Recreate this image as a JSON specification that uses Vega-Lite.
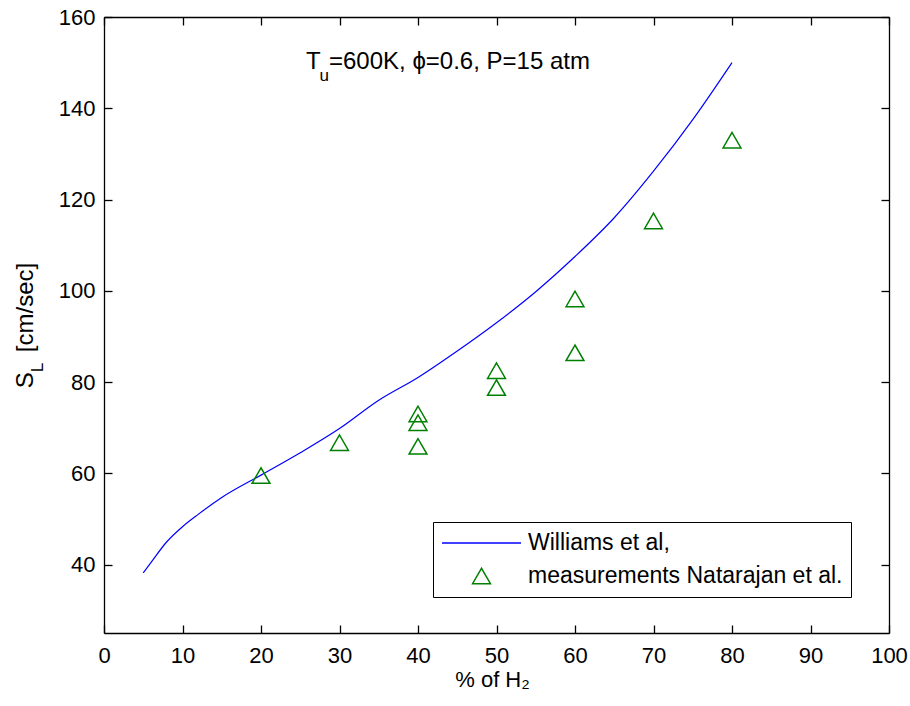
{
  "$schema": "https://vega.github.io/schema/vega-lite/v6.json",
  "width": 785,
  "height": 616,
  "autosize": {"type": "none"},
  "padding": {"left": 104, "top": 17, "right": 21, "bottom": 73},
  "background": "white",
  "config": {
    "font": "Liberation Sans",
    "view": {"stroke": null},
    "axis": {
      "grid": false,
      "domainColor": "black",
      "domainWidth": 1.3,
      "tickColor": "black",
      "tickWidth": 1.3,
      "tickSize": -8,
      "labelColor": "black",
      "labelFont": "Liberation Sans",
      "labelFontSize": 22,
      "labelFlush": false,
      "labelOverlap": false,
      "titleColor": "black",
      "titleFont": "Liberation Sans",
      "titleFontSize": 22,
      "titleFontWeight": "normal"
    },
    "legend": {
      "labelFont": "Liberation Sans",
      "labelFontSize": 23,
      "labelColor": "black",
      "labelLimit": 600
    }
  },
  "datasets": {
    "williams": [
      {"h2": 5, "sl": 38.2},
      {"h2": 6, "sl": 40.5},
      {"h2": 8, "sl": 45.0},
      {"h2": 10, "sl": 48.3},
      {"h2": 12, "sl": 51.0},
      {"h2": 15, "sl": 54.7},
      {"h2": 20, "sl": 59.6},
      {"h2": 25, "sl": 64.5},
      {"h2": 30, "sl": 69.8},
      {"h2": 35, "sl": 76.0},
      {"h2": 40, "sl": 81.0},
      {"h2": 45, "sl": 86.8},
      {"h2": 50, "sl": 93.0},
      {"h2": 55, "sl": 99.8},
      {"h2": 60, "sl": 107.5},
      {"h2": 65, "sl": 116.0},
      {"h2": 70, "sl": 126.2},
      {"h2": 75, "sl": 137.5},
      {"h2": 80, "sl": 150.0}
    ],
    "natarajan": [
      {"h2": 20, "sl": 59.5, "series": "measurements Natarajan et al."},
      {"h2": 30, "sl": 66.7, "series": "measurements Natarajan et al."},
      {"h2": 40, "sl": 73.0, "series": "measurements Natarajan et al."},
      {"h2": 40, "sl": 71.1, "series": "measurements Natarajan et al."},
      {"h2": 40, "sl": 65.9, "series": "measurements Natarajan et al."},
      {"h2": 50, "sl": 82.5, "series": "measurements Natarajan et al."},
      {"h2": 50, "sl": 78.8, "series": "measurements Natarajan et al."},
      {"h2": 60, "sl": 98.2, "series": "measurements Natarajan et al."},
      {"h2": 60, "sl": 86.4, "series": "measurements Natarajan et al."},
      {"h2": 70, "sl": 115.3, "series": "measurements Natarajan et al."},
      {"h2": 80, "sl": 133.0, "series": "measurements Natarajan et al."}
    ]
  },
  "resolve": {"axis": {"x": "independent", "y": "independent"}},
  "layer": [
    {
      "data": {"name": "williams"},
      "mark": {"type": "line", "color": "#0000ff", "strokeWidth": 1.2, "interpolate": "monotone"},
      "encoding": {
        "x": {
          "field": "h2", "type": "quantitative",
          "scale": {"domain": [0, 100], "nice": false, "zero": false},
          "axis": {"orient": "bottom", "values": [0, 10, 20, 30, 40, 50, 60, 70, 80, 90, 100], "labelPadding": 20, "title": "% of H₂", "titleBaseline": "alphabetic", "titleY": 53, "titleX": 388}
        },
        "y": {
          "field": "sl", "type": "quantitative",
          "scale": {"domain": [25, 160], "nice": false, "zero": false},
          "axis": {"orient": "left", "values": [40, 60, 80, 100, 120, 140, 160], "labelPadding": 17, "title": "S\u00a0\u00a0\u00a0[cm/sec]", "titleFontSize": 24, "titleAngle": 270, "titleBaseline": "alphabetic", "titleAlign": "center", "titleX": -72, "titleY": 308}
        }
      }
    },
    {
      "data": {"name": "natarajan"},
      "mark": {"type": "point", "filled": false, "strokeWidth": 1.5, "opacity": 1},
      "encoding": {
        "x": {
          "field": "h2", "type": "quantitative",
          "scale": {"domain": [0, 100], "nice": false, "zero": false},
          "axis": {"orient": "top", "values": [0, 10, 20, 30, 40, 50, 60, 70, 80, 90, 100], "labels": false, "title": null}
        },
        "y": {
          "field": "sl", "type": "quantitative",
          "scale": {"domain": [25, 160], "nice": false, "zero": false},
          "axis": {"orient": "right", "values": [40, 60, 80, 100, 120, 140, 160], "labels": false, "title": null}
        },
        "color": {
          "field": "series", "type": "nominal",
          "scale": {"domain": ["Williams et al,", "measurements Natarajan et al."], "range": ["#0000ff", "#008000"]},
          "legend": {
            "title": null,
            "orient": "none",
            "legendX": 329,
            "legendY": 505,
            "padding": 8,
            "clipHeight": 26,
            "strokeColor": "black",
            "fillColor": "white",
            "labelOffset": 6,
            "rowPadding": 7,
            "symbolStrokeWidth": 1.5
          }
        },
        "shape": {
          "field": "series", "type": "nominal",
          "scale": {"domain": ["Williams et al,", "measurements Natarajan et al."], "range": ["M-1,0H1", "triangle-up"]}
        },
        "size": {
          "field": "series", "type": "nominal",
          "scale": {"domain": ["Williams et al,", "measurements Natarajan et al."], "range": [6241, 320]}
        }
      }
    },
    {
      "data": {"values": [{}]},
      "mark": {"type": "text", "text": "T", "align": "left", "baseline": "alphabetic", "fontSize": 24, "font": "Liberation Sans", "color": "black"},
      "encoding": {
        "x": {"datum": 25.73, "type": "quantitative", "axis": null},
        "y": {"datum": 148.6, "type": "quantitative", "axis": null}
      }
    },
    {
      "data": {"values": [{}]},
      "mark": {"type": "text", "text": "u", "align": "left", "baseline": "alphabetic", "fontSize": 17, "font": "Liberation Sans", "color": "black"},
      "encoding": {
        "x": {"datum": 27.45, "type": "quantitative", "axis": null},
        "y": {"datum": 146.0, "type": "quantitative", "axis": null}
      }
    },
    {
      "data": {"values": [{}]},
      "mark": {"type": "text", "text": "=600K, ϕ=0.6, P=15 atm", "align": "left", "baseline": "alphabetic", "fontSize": 24, "font": "Liberation Sans", "color": "black"},
      "encoding": {
        "x": {"datum": 28.66, "type": "quantitative", "axis": null},
        "y": {"datum": 148.6, "type": "quantitative", "axis": null}
      }
    },
    {
      "data": {"values": [{}]},
      "mark": {"type": "text", "text": "L", "align": "center", "baseline": "alphabetic", "angle": 270, "dy": -61, "fontSize": 17, "font": "Liberation Sans", "color": "black"},
      "encoding": {
        "x": {"datum": 0, "type": "quantitative", "axis": null},
        "y": {"datum": 83.2, "type": "quantitative", "axis": null}
      }
    }
  ]
}
